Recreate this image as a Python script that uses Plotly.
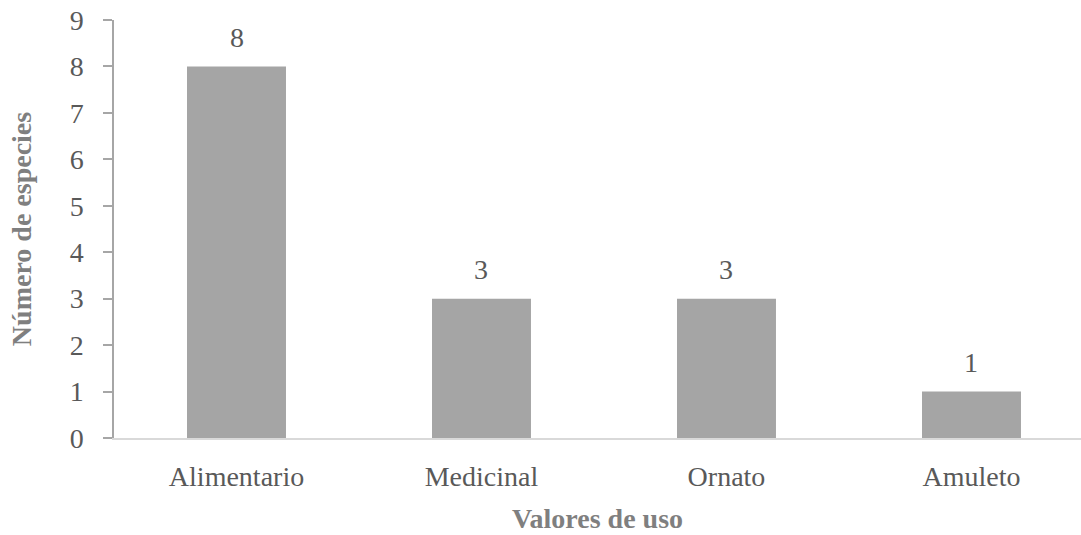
import plotly.graph_objects as go

categories = ["Alimentario", "Medicinal", "Ornato", "Amuleto"]
values = [8, 3, 3, 1]
y_ticks = list(range(0, 10))

FONT = "Liberation Serif, Times New Roman, serif"
TXT = "#595959"

fig = go.Figure()
fig.add_trace(go.Bar(
    x=categories, y=values,
    marker=dict(color="#A5A5A5", line=dict(width=0)),
    hoverinfo="skip",
))

for c, v in zip(categories, values):
    fig.add_annotation(x=c, y=v, text=str(v), showarrow=False,
                       yanchor="middle", yshift=29,
                       font=dict(family=FONT, size=28, color=TXT))

fig.update_layout(
    width=1081, height=535,
    margin=dict(l=114, r=0, t=20, b=96.5),
    paper_bgcolor="white", plot_bgcolor="white",
    bargap=0.596,
    showlegend=False,
    font=dict(family=FONT, size=28, color=TXT),
)
fig.update_xaxes(
    range=[-0.5, 3.447],
    showgrid=False, zeroline=False,
    showline=True, linecolor="#D9D9D9", linewidth=2,
    ticks="", tickfont=dict(family=FONT, size=28, color=TXT),
    ticklabelstandoff=12,
    title=dict(text="<b>Valores de uso</b>", standoff=18,
               font=dict(family=FONT, size=28, color="#7F7F7F")),
)
fig.update_yaxes(
    range=[0, 9], tickvals=y_ticks,
    showgrid=False, zeroline=False,
    showline=True, linecolor="#A6A6A6", linewidth=1.5,
    ticks="outside", ticklen=9, tickcolor="#A6A6A6", tickwidth=1.5,
    tickfont=dict(family=FONT, size=28, color=TXT),
    ticklabelstandoff=14,
    title=dict(text="<b>Número de especies</b>", standoff=30,
               font=dict(family=FONT, size=28, color="#7F7F7F")),
)

fig.write_html("out.html")
